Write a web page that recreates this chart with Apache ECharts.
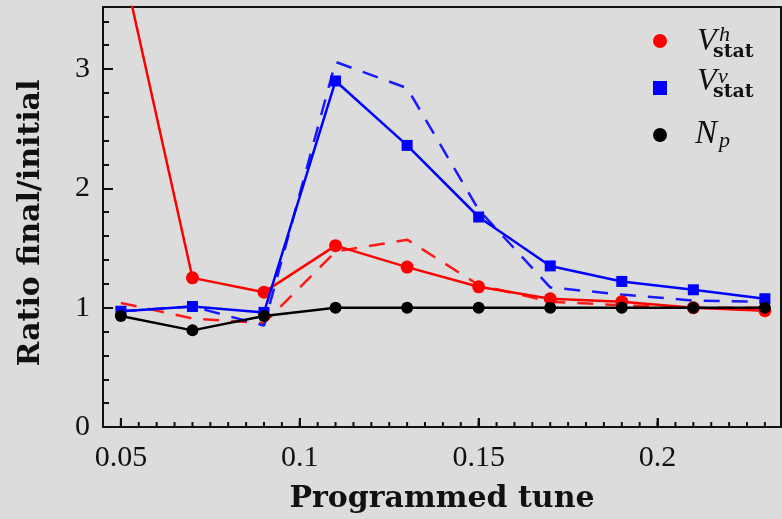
<!DOCTYPE html>
<html>
<head>
<meta charset="utf-8">
<script src="https://cdn.jsdelivr.net/npm/echarts@6/dist/echarts.min.js"></script>
<style>
  html, body { margin: 0; padding: 0; background: #dcdcdc; }
  #chart { width: 782px; height: 519px; }
</style>
</head>
<body>
<div id="chart"></div>
<script>
// ---- data ----
const tunes = [0.05, 0.07, 0.09, 0.11, 0.13, 0.15, 0.17, 0.19, 0.21, 0.23];
const vhSolid = [3.95, 1.25, 1.13, 1.52, 1.34, 1.175, 1.075, 1.05, 1.00, 0.975];
const vvSolid = [0.97, 1.01, 0.96, 2.90, 2.36, 1.76, 1.35, 1.22, 1.15, 1.075];
const npSolid = [0.93, 0.81, 0.93, 1.00, 1.00, 1.00, 1.00, 1.00, 1.00, 1.00];
const vhDashed = [1.04, 0.91, 0.87, 1.47, 1.57, 1.19, 1.05, 1.02, 1.00, 1.00];
const vvDashed = [0.97, 1.01, 0.85, 3.06, 2.84, 1.82, 1.17, 1.11, 1.06, 1.05];
const xTickLabels = [0.05, 0.1, 0.15, 0.2];
const yTickLabels = [0, 1, 2, 3];
const legendNames = ['Vh', 'Vv', 'Np'];

const pairs = (ys) => tunes.map((x, i) => [x, ys[i]]);

const X_MIN = 0.045, X_MAX = 0.2345, Y_MIN = 0, Y_MAX = 3.52;
const X_MINOR_STEP = 0.005;
// minor tick positions along the x axis (axis scaffolding, not data)
const xMinorTicks = [];
for (let k = Math.ceil(X_MIN / X_MINOR_STEP - 1e-9); k * X_MINOR_STEP <= X_MAX + 1e-9; k++) {
  xMinorTicks.push(Math.round(k * X_MINOR_STEP * 10000) / 10000);
}

const INK = '#111';
const labelFont = { fontFamily: 'Liberation Serif', fontSize: 30, color: INK };
const titleFont = { fontFamily: 'DejaVu Serif', fontWeight: 'bold', fontSize: 30, color: INK };
const frameLine = () => ({ show: true, onZero: false, lineStyle: { color: INK, width: 2 } });
const noLine = () => ({ show: false, onZero: false });

const chart = echarts.init(document.getElementById('chart'), null, { renderer: 'canvas' });

const txt = (x, y, text, font) => ({
  type: 'text', x: x, y: y,
  style: { text: text, font: font, fill: INK, textAlign: 'left', textVerticalAlign: 'middle', align: 'left', verticalAlign: 'middle' }
});

// x-axis tick marks drawn through the axis scale
const tickSeries = (values, len) => ({
  type: 'custom', silent: true, clip: false, z: 6,
  data: values.map(v => [v, Y_MIN]),
  encode: { x: 0, y: 1 },
  renderItem: (params, api) => {
    const p = api.coord([api.value(0), api.value(1)]);
    return {
      type: 'line',
      shape: { x1: p[0], y1: p[1], x2: p[0], y2: p[1] - len },
      style: { stroke: INK, lineWidth: 2 }
    };
  }
});

const option = {
  backgroundColor: '#dcdcdc',
  animation: false,
  grid: { left: 103, top: 7, right: 1, bottom: 91, show: false },
  xAxis: [
    {
      type: 'value', min: X_MIN, max: X_MAX, position: 'bottom',
      name: 'Programmed tune', nameLocation: 'middle', nameGap: 57,
      nameTextStyle: titleFont,
      axisLine: frameLine(),
      axisTick: { show: true, inside: true, length: 9, customValues: xTickLabels, lineStyle: { color: INK, width: 2 } },
      axisLabel: Object.assign({ margin: 16, customValues: xTickLabels, formatter: (v) => String(v) }, labelFont),
      splitLine: { show: false }
    },
    {
      type: 'value', min: X_MIN, max: X_MAX, position: 'top',
      axisLine: frameLine(),
      axisTick: { show: false }, axisLabel: { show: false }, splitLine: { show: false }
    }
  ],
  yAxis: [
    {
      type: 'value', min: Y_MIN, max: Y_MAX, position: 'left',
      name: 'Ratio final/initial', nameLocation: 'middle', nameGap: 57, nameRotate: 90,
      nameTextStyle: Object.assign({ padding: [0, 12, 0, 0] }, titleFont),
      axisLine: frameLine(),
      axisTick: { show: true, inside: true, length: 10, customValues: yTickLabels, lineStyle: { color: INK, width: 2 } },
      axisLabel: Object.assign({ margin: 13, customValues: yTickLabels }, labelFont),
      splitLine: { show: false }
    },
    {
      type: 'value', min: Y_MIN, max: Y_MAX, interval: 0.2, position: 'left',
      axisLine: noLine(),
      axisTick: { show: true, inside: true, length: 6, lineStyle: { color: INK, width: 2 } },
      axisLabel: { show: false },
      splitLine: { show: false }
    },
    {
      type: 'value', min: Y_MIN, max: Y_MAX, position: 'right',
      axisLine: frameLine(),
      axisTick: { show: false }, axisLabel: { show: false }, splitLine: { show: false }
    }
  ],
  legend: {
    orient: 'vertical', left: 648, top: 29,
    itemWidth: 14, itemHeight: 14, itemGap: 33,
    selectedMode: false,
    formatter: () => '',
    data: [
      { name: legendNames[0], icon: 'circle' },
      { name: legendNames[1], icon: 'rect' },
      { name: legendNames[2], icon: 'circle' }
    ]
  },
  series: [
    {
      name: legendNames[0] + 'd', type: 'line', data: pairs(vhDashed), showSymbol: false, symbol: 'none',
      lineStyle: { color: '#ff1a1a', width: 2.5, type: [16, 12] }, itemStyle: { color: '#ff1a1a' }, z: 2
    },
    {
      name: legendNames[1] + 'd', type: 'line', data: pairs(vvDashed), showSymbol: false, symbol: 'none',
      lineStyle: { color: '#1a1aff', width: 2.5, type: [16, 12] }, itemStyle: { color: '#1a1aff' }, z: 2
    },
    {
      name: legendNames[0], type: 'line', data: pairs(vhSolid), symbol: 'circle', symbolSize: 13,
      lineStyle: { color: '#ff0000', width: 2.5 }, itemStyle: { color: '#ff0000' }, z: 3
    },
    {
      name: legendNames[1], type: 'line', data: pairs(vvSolid), symbol: 'rect', symbolSize: 11,
      lineStyle: { color: '#0000ff', width: 2.5 }, itemStyle: { color: '#0000ff' }, z: 4
    },
    {
      name: legendNames[2], type: 'line', data: pairs(npSolid), symbol: 'circle', symbolSize: 12,
      lineStyle: { color: '#000000', width: 2.5 }, itemStyle: { color: '#000000' }, z: 5
    },
    tickSeries(xTickLabels, 9),
    tickSeries(xMinorTicks, 5)
  ],
  graphic: [
    txt(697, 42, 'V', 'italic 32px "Liberation Serif"'),
    txt(719, 35, 'h', 'italic 22px "Liberation Serif"'),
    txt(713, 52, 'stat', 'bold 19px "DejaVu Serif"'),
    txt(697, 82, 'V', 'italic 32px "Liberation Serif"'),
    txt(718, 77, 'v', 'italic 22px "Liberation Serif"'),
    txt(713, 92, 'stat', 'bold 19px "DejaVu Serif"'),
    txt(695, 134, 'N', 'italic 33px "Liberation Serif"'),
    txt(719, 141, 'p', 'italic 22px "Liberation Serif"')
  ]
};

chart.setOption(option);
</script>
</body>
</html>
